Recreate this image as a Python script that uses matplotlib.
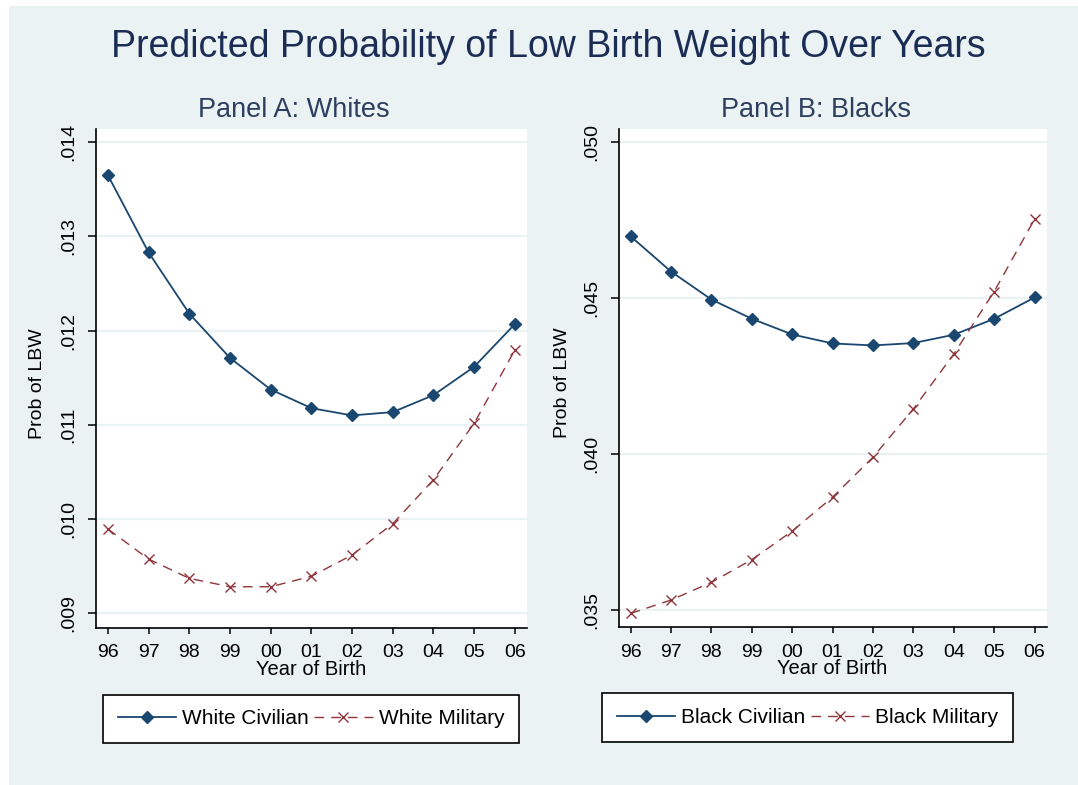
import matplotlib
matplotlib.use("Agg")
import matplotlib.pyplot as plt
from matplotlib.patches import Rectangle

# ---- data ----
years = ['96', '97', '98', '99', '00', '01', '02', '03', '04', '05', '06']
white_civilian = [0.01365, 0.01283, 0.01218, 0.01171, 0.011374, 0.011176, 0.011099, 0.011134, 0.011314, 0.011615, 0.012068]
white_military = [0.009892, 0.009573, 0.009368, 0.009279, 0.009279, 0.009390, 0.009616, 0.009948, 0.010415, 0.011014, 0.011792]
black_civilian = [0.04698, 0.04585, 0.044955, 0.044338, 0.043836, 0.043548, 0.043484, 0.043560, 0.043826, 0.044338, 0.04502]
black_military = [0.03490, 0.03533, 0.035896, 0.036622, 0.037537, 0.038625, 0.039904, 0.041452, 0.043208, 0.045211, 0.047527]
white_yticks = [0.009, 0.010, 0.011, 0.012, 0.013, 0.014]
white_yticklabels = ['.009', '.010', '.011', '.012', '.013', '.014']
black_yticks = [0.035, 0.040, 0.045, 0.050]
black_yticklabels = ['.035', '.040', '.045', '.050']

title = "Predicted Probability of Low Birth Weight Over Years"
panel_titles = ["Panel A: Whites", "Panel B: Blacks"]
legend_labels = [["White Civilian", "White Military"], ["Black Civilian", "Black Military"]]

plt.rcParams['font.family'] = ['Liberation Sans', 'DejaVu Sans']

W, H = 1078, 785
BG = '#EAF2F3'
NAVY = '#1A476F'
MAROON = '#90353B'

fig = plt.figure(figsize=(W / 100, H / 100), dpi=100, facecolor='white')
fig.patches.append(Rectangle((9 / W, 0), 1 - 9 / W, 1 - 6 / H, transform=fig.transFigure,
                             facecolor=BG, edgecolor='none', zorder=-10))

def px(x0, y0, x1, y1):
    return [x0 / W, 1 - y1 / H, (x1 - x0) / W, (y1 - y0) / H]

ax1 = fig.add_axes(px(95.7, 129, 527, 627.7))
ax2 = fig.add_axes(px(618.5, 129, 1046.7, 627))

x = list(range(len(years)))

panels = [
    (ax1, white_civilian, white_military, white_yticks, white_yticklabels, (0.008844, 0.014141), legend_labels[0]),
    (ax2, black_civilian, black_military, black_yticks, black_yticklabels, (0.034466, 0.050416), legend_labels[1]),
]

for ax, civ, mil, yt, ytl, ylim, labs in panels:
    ax.set_facecolor('white')
    for v in yt:
        ax.axhline(v, color=BG, lw=1.6, zorder=0)
    ax.plot(x, civ, color=NAVY, lw=1.3, marker='D', ms=5.8, mfc=NAVY, mec=NAVY, label=labs[0], zorder=3)
    ax.plot(x, mil, color=MAROON, lw=1.0, dashes=(7, 5), marker='x', ms=6.5, mew=1.0, label=labs[1], zorder=4)
    ax.set_xlim(-0.30, 10.30)
    ax.set_ylim(*ylim)
    ax.set_xticks(x)
    ax.set_xticklabels(years)
    ax.set_yticks(yt)
    ax.set_yticklabels(ytl)
    for s in ['top', 'right']:
        ax.spines[s].set_visible(False)
    for s in ['left', 'bottom']:
        ax.spines[s].set_color('black')
        ax.spines[s].set_linewidth(1.2)
    ax.tick_params(axis='x', length=4, width=1.1, pad=8, labelsize=14, colors='black')
    ax.tick_params(axis='y', length=6, width=1.1, pad=7, labelsize=14, colors='black', labelrotation=90)
    for lab in ax.get_yticklabels():
        lab.set_va('center')
    ax.set_xlabel('Year of Birth', fontsize=14.5, color='black')
    ax.xaxis.set_label_coords(0.5, -0.064)
    ax.set_ylabel('Prob of LBW', fontsize=14, color='black')

ax1.yaxis.set_label_coords(-0.115, 0.49)
ax2.yaxis.set_label_coords(-0.111, 0.49)

fig.text(548.5 / W, 1 - 57 / H, title, ha='center', va='baseline', fontsize=27, color='#1C2D55')
fig.text(294 / W, 1 - 117.3 / H, panel_titles[0], ha='center', va='baseline', fontsize=19.5, color='#2D3E5E')
fig.text(816 / W, 1 - 117.3 / H, panel_titles[1], ha='center', va='baseline', fontsize=19.5, color='#2D3E5E')

for ax, cx, cy in [(ax1, 311, 719), (ax2, 807.5, 717.5)]:
    leg = ax.legend(loc='center', bbox_to_anchor=(cx / W, 1 - cy / H), bbox_transform=fig.transFigure,
                    ncol=2, fontsize=15, frameon=True, fancybox=False, framealpha=1,
                    edgecolor='black', facecolor='white', handlelength=2.8, handletextpad=0.3,
                    columnspacing=0.25, borderpad=0.7, borderaxespad=0)
    leg.get_frame().set_linewidth(1.2)

fig.savefig('out.png', dpi=100, facecolor=fig.get_facecolor())
